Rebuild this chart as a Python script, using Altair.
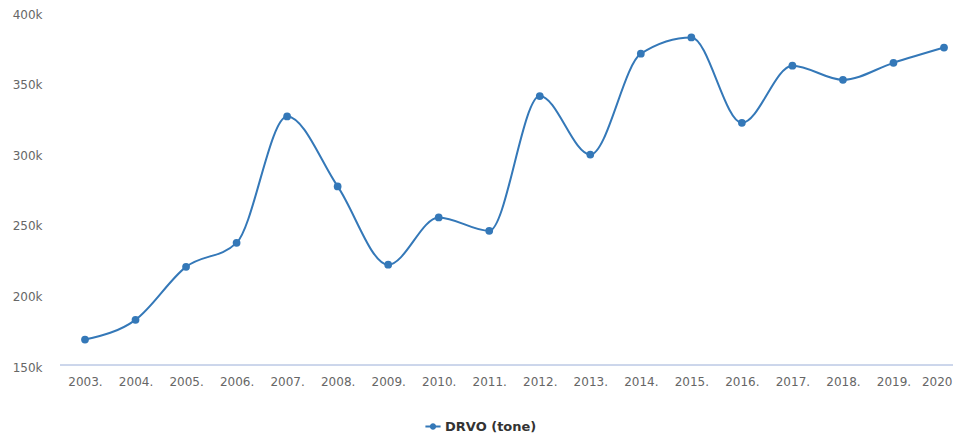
import altair as alt
import pandas as pd

years = ["2003.", "2004.", "2005.", "2006.", "2007.", "2008.", "2009.", "2010.", "2011.",
         "2012.", "2013.", "2014.", "2015.", "2016.", "2017.", "2018.", "2019.", "2020"]
values = [168000, 182000, 219500, 236500, 326000, 276500, 221000, 254500, 245000,
          340500, 299000, 370500, 382000, 321500, 362000, 352000, 364000, 374800]
series = ["DRVO (tone)"] * len(years)
y_ticks = [150000, 200000, 250000, 300000, 350000, 400000]

df = pd.DataFrame({"year": years, "value": values, "series": series})

color = "#3478b8"
font = "DejaVu Sans"
W, H = 893, 353
last = years[-1]

legend_shape = ("M-1,-0.13H1V0.13H-1Z "
                "M0.42,0A0.42,0.42 0 1,1 -0.42,0A0.42,0.42 0 1,1 0.42,0Z")

yscale = alt.Scale(domain=[y_ticks[0], y_ticks[-1]], nice=False, zero=False)

base = alt.Chart(df).encode(
    x=alt.X("year:N", sort=years, title=None,
            scale=alt.Scale(type="point", range=[25, 884], padding=0),
            axis=alt.Axis(labelAngle=0, labelColor="#666666", labelFont=font,
                          labelFontSize=12, tickSize=0, labelPadding=11,
                          labelAlign={"condition": {"test": f"datum.value == '{last}'",
                                                    "value": "right"},
                                      "value": "center"},
                          labelOffset={"condition": {"test": f"datum.value == '{last}'",
                                                     "value": 8},
                                       "value": 0},
                          domain=False, grid=False,
                          labelBound=False, labelOverlap=False)),
    y=alt.Y("value:Q", title=None, scale=yscale,
            axis=alt.Axis(values=y_ticks,
                          labelExpr="datum.value / 1000 + 'k'",
                          labelColor="#666666", labelFont=font, labelFontSize=12,
                          tickSize=0, labelPadding=18, labelOffset=2, domain=False,
                          gridColor="#e6e6e6", gridWidth=1)),
    color=alt.Color("series:N",
                    scale=alt.Scale(range=[color]),
                    legend=alt.Legend(title=None, orient="none", legendX=365, legendY=406.5,
                                      symbolType=legend_shape, symbolSize=230,
                                      symbolStrokeWidth=0, symbolFillColor=color,
                                      labelFont=font, labelFontSize=13,
                                      labelFontWeight="bold", labelColor="#333333",
                                      labelOffset=4)),
)

axis_line = alt.Chart(df).mark_rule(color="#ccd6eb", strokeWidth=1).encode(
    y=alt.datum(y_ticks[0], scale=yscale),
    x=alt.value(0), x2=alt.value(W),
)

line = base.mark_line(interpolate="monotone", strokeWidth=2)
points = base.mark_point(filled=True, size=60, opacity=1)

chart = (axis_line + line + points).properties(
    width=W, height=H,
    autosize=alt.AutoSizeParams(type="none"),
    padding={"left": 52, "top": 4, "right": 0, "bottom": 68},
).configure(background="white").configure_view(stroke=None)

chart.save("out.html", embed_options={"renderer": "svg", "actions": False})
